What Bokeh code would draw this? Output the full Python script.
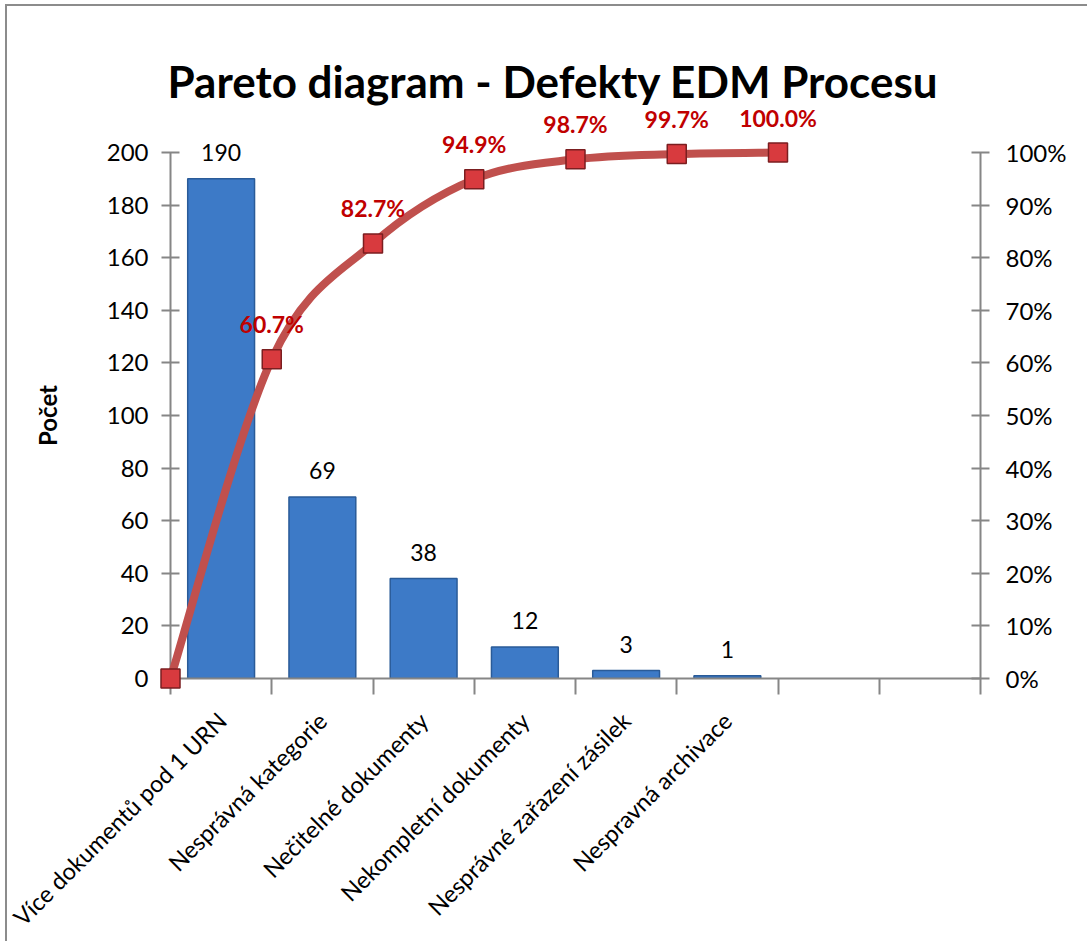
import math
from bokeh.plotting import figure
from bokeh.models import Range1d, LinearAxis, FixedTicker, PrintfTickFormatter, ColumnDataSource
from bokeh.core.properties import value
from bokeh.embed import file_html
from bokeh.resources import INLINE

# ---- data ----
title_text = "Pareto diagram - Defekty EDM Procesu"
categories = ["Více dokumentů pod 1 URN", "Nesprávná kategorie", "Nečitelné dokumenty",
              "Nekompletní dokumenty", "Nesprávné zařazení zásilek", "Nespravná archivace"]
counts = [190, 69, 38, 12, 3, 1]
cum_pct = [0.0, 60.7, 82.7, 94.9, 98.7, 99.7, 100.0]
n_slots = 8
left_ticks = [0, 20, 40, 60, 80, 100, 120, 140, 160, 180, 200]
right_ticks = [0, 10, 20, 30, 40, 50, 60, 70, 80, 90, 100]

FONT = "Lato"
AXIS_COLOR = "#868686"
W, H = 1082, 937

p = figure(width=W, height=H, output_backend="svg", toolbar_location=None,
           x_range=Range1d(0, n_slots), y_range=Range1d(0, 200),
           min_border_left=163, min_border_right=109, min_border_top=146, min_border_bottom=264,
           title=title_text,
           styles={"margin-left": "5px", "margin-top": "4px",
                   "border-top": "2px solid #8c8c8c", "border-left": "2px solid #8c8c8c"})
p.extra_y_ranges = {"pct": Range1d(0, 100)}
p.outline_line_color = None
p.xgrid.visible = False
p.ygrid.visible = False
p.background_fill_color = "white"
p.border_fill_color = "white"

p.title.text_font = FONT
p.title.text_font_size = "44px"
p.title.text_font_style = "bold"
p.title.align = "left"
p.title.offset = -3
p.title.vertical_align = "top"
p.title.text_color = "black"
p.title.standoff = 88

# ---- bars ----
bar_x = [i + 0.5 for i in range(len(categories))]
src = ColumnDataSource(dict(x=bar_x, top=counts, lbl=[str(c) for c in counts]))
p.vbar(x="x", top="top", width=0.66, bottom=0, source=src,
       fill_color="#3d7ac7", line_color="#2a5b98", line_width=1.5)
cnt = p.text(x="x", y="top", text="lbl", source=src, text_align="center", text_baseline="bottom",
             y_offset=-18, text_font=value(FONT), text_font_size="23px", text_color="black")
cnt.level = "overlay"

# ---- smoothed cumulative line (Catmull-Rom -> Bezier through the data points) ----
px = list(range(len(cum_pct)))
py = cum_pct
n = len(px)
x0s, y0s, x1s, y1s, cx0s, cy0s, cx1s, cy1s = [], [], [], [], [], [], [], []
for i in range(n - 1):
    xm, ym = (px[i - 1], py[i - 1]) if i > 0 else (px[i], py[i])
    xp2, yp2 = (px[i + 2], py[i + 2]) if i + 2 < n else (px[i + 1], py[i + 1])
    x0s.append(px[i]); y0s.append(py[i])
    x1s.append(px[i + 1]); y1s.append(py[i + 1])
    cx0s.append(px[i] + (px[i + 1] - xm) / 6.0)
    cy0s.append(py[i] + (py[i + 1] - ym) / 6.0)
    cx1s.append(px[i + 1] - (xp2 - px[i]) / 6.0)
    cy1s.append(py[i + 1] - (yp2 - py[i]) / 6.0)
ln = p.bezier(x0=x0s, y0=y0s, x1=x1s, y1=y1s, cx0=cx0s, cy0=cy0s, cx1=cx1s, cy1=cy1s,
              line_color="#c0504d", line_width=8, y_range_name="pct")
ln.level = "overlay"

mk = p.scatter(x=px, y=py, marker="square", size=19, fill_color="#d83a3e",
               line_color="#7b1e20", line_width=1.5, y_range_name="pct")
mk.level = "overlay"

lbl_x = px[1:]
lbl_y = py[1:]
lbl_t = ["%.1f%%" % v for v in lbl_y]
pl = p.text(x=lbl_x, y=lbl_y, text=lbl_t, y_range_name="pct", text_align="center",
            text_baseline="middle", y_offset=-35, text_font=value(FONT), text_font_size="23px",
            text_font_style="bold", text_color="#c00000")
pl.level = "overlay"

# ---- axes ----
def style_axis(ax):
    ax.axis_line_color = AXIS_COLOR
    ax.axis_line_width = 2
    ax.major_tick_line_color = AXIS_COLOR
    ax.major_tick_line_width = 2
    ax.minor_tick_line_color = None
    ax.major_label_text_font = FONT
    ax.major_label_text_font_size = "24px"
    ax.major_label_text_color = "black"

yl = p.yaxis[0]
yl.ticker = FixedTicker(ticks=left_ticks)
style_axis(yl)
yl.major_tick_in = 9
yl.major_tick_out = 9
yl.major_label_standoff = 13
yl.axis_label = "Počet"
yl.axis_label_text_font = FONT
yl.axis_label_text_font_size = "24px"
yl.axis_label_text_font_style = "bold"
yl.axis_label_text_color = "black"
yl.axis_label_standoff = 42

yr = LinearAxis(y_range_name="pct", ticker=FixedTicker(ticks=right_ticks),
                formatter=PrintfTickFormatter(format="%d%%"))
style_axis(yr)
yr.major_tick_in = 9
yr.major_tick_out = 9
yr.major_label_standoff = 16
p.add_layout(yr, "right")

xa = p.xaxis[0]
xa.ticker = FixedTicker(ticks=bar_x, minor_ticks=list(range(n_slots + 1)))
xa.major_label_overrides = {bx: c for bx, c in zip(bar_x, categories)}
style_axis(xa)
xa.major_tick_line_color = None
xa.major_tick_in = 0
xa.major_tick_out = 0
xa.minor_tick_line_color = AXIS_COLOR
xa.minor_tick_line_width = 2
xa.minor_tick_in = 0
xa.minor_tick_out = 16
xa.major_label_orientation = math.pi / 4
xa.major_label_standoff = 22
xa.major_label_text_font_size = "23.5px"

open("out.html", "w").write(file_html(p, INLINE))
